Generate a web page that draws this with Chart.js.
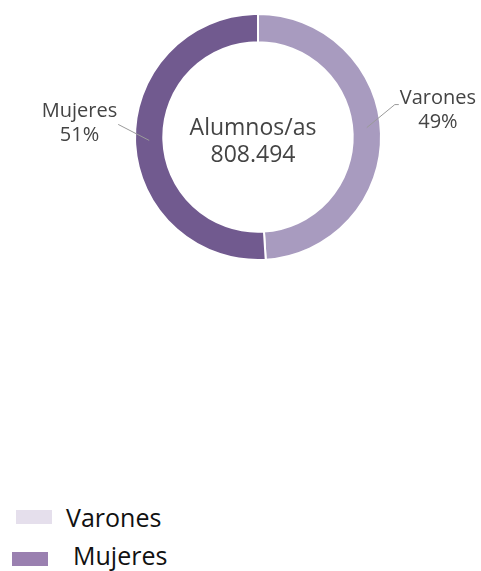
<!DOCTYPE html>
<html>
<head>
<meta charset="utf-8">
<script src="https://cdn.jsdelivr.net/npm/chart.js@4/dist/chart.umd.min.js"></script>
<style>
    html, body { margin: 0; padding: 0; background: #fff; }
    body { width: 481px; height: 571px; position: relative; overflow: hidden; font-family: "Open Sans", sans-serif; }
    #wrap { position: absolute; left: 0; top: 0; width: 481px; height: 300px; }
    .leg { position: absolute; font-size: 25px; color: #111; line-height: 1; }
    .leg span { position: absolute; width: 36px; height: 14px; }
</style>
</head>
<body>
<div id="wrap"><canvas id="donut"></canvas></div>
<div class="leg" style="left:0;top:505px;"><span style="left:16px;top:5px;background:#e5dfec;"></span><b style="font-weight:400;position:absolute;left:66px;top:0;white-space:nowrap;">Varones</b></div>
<div class="leg" style="left:0;top:543px;"><span style="left:12px;top:9px;background:#9a80b0;"></span><b style="font-weight:400;position:absolute;left:73px;top:0;white-space:nowrap;">Mujeres</b></div>
<script>
// datos del gráfico
const categories = ['Varones', 'Mujeres'];
const percentages = [49, 51];
const sliceColors = ['#a89bbf', '#715a8f'];
const centerTitle = 'Alumnos/as';
const centerValue = '808.494';

// texto central + etiquetas con línea guía
const labelPlugin = {
    id: 'labelPlugin',
    afterDraw(chart) {
        const ctx = chart.ctx;
        const meta = chart.getDatasetMeta(0);
        const first = meta.data[0];
        ctx.save();
        ctx.fillStyle = '#444';
        ctx.textAlign = 'center';
        ctx.textBaseline = 'middle';
        ctx.font = '23px "Open Sans"';
        ctx.fillText(centerTitle, first.x - 5, first.y - 9);
        ctx.fillText(centerValue, first.x - 5, first.y + 18);

        meta.data.forEach((arc, i) => {
            const mid = (arc.startAngle + arc.endAngle) / 2;
            const r = (arc.innerRadius + arc.outerRadius) / 2;
            const x0 = arc.x + Math.cos(mid) * r;
            let y0 = arc.y + Math.sin(mid) * r;
            const right = Math.cos(mid) >= 0;
            if (right) y0 -= 6;
            const lines = [categories[i], percentages[i] + '%'];
            ctx.font = '20px "Open Sans"';
            const w = ctx.measureText(lines[0]).width;
            ctx.strokeStyle = '#9a9a9a';
            ctx.lineWidth = 1;
            ctx.beginPath();
            ctx.moveTo(x0, y0);
            let cx, y1;
            if (right) {
                const x1 = x0 + 28, yy = y0 - 23;
                ctx.lineTo(x1, yy);
                ctx.lineTo(x1 + 4, yy);
                cx = x1 + 5 + w / 2;
                y1 = yy - 6;
            } else {
                const x1 = x0 - 31, yy = y0 - 16;
                ctx.lineTo(x1, yy);
                cx = x1 - 1 - w / 2;
                y1 = yy - 13;
            }
            ctx.stroke();
            ctx.fillStyle = '#444';
            ctx.fillText(lines[0], cx, y1);
            ctx.fillText(lines[1], cx, y1 + 24);
        });
        ctx.restore();
    }
};

new Chart(document.getElementById('donut'), {
    type: 'doughnut',
    data: {
        labels: categories,
        datasets: [{
            data: percentages,
            backgroundColor: sliceColors,
            borderColor: '#ffffff',
            borderWidth: 2
        }]
    },
    options: {
        responsive: true,
        maintainAspectRatio: false,
        animation: false,
        cutout: '77%',
        layout: { padding: { left: 134, right: 99, top: 13, bottom: 39 } },
        plugins: {
            legend: { display: false },
            tooltip: { enabled: false }
        }
    },
    plugins: [labelPlugin]
});
</script>
</body>
</html>
